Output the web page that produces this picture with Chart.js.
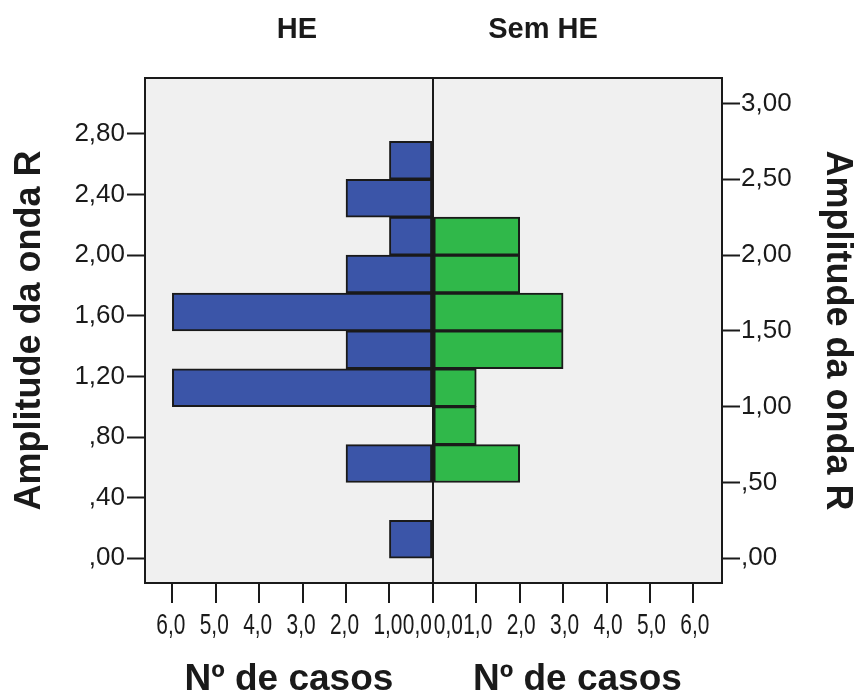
<!DOCTYPE html>
<html>
<head>
<meta charset="utf-8">
<script src="https://cdn.jsdelivr.net/npm/chart.js@4.4.1/dist/chart.umd.min.js"></script>
<style>
  html, body { margin: 0; padding: 0; background: #ffffff; }
  #wrap { width: 855px; height: 693px; }
</style>
</head>
<body>
<div id="wrap"><canvas id="pyramid"></canvas></div>
<script>
// Classes (centro de cada intervalo de 0,25) da amplitude da onda R
const binCenters = [0.125, 0.375, 0.625, 0.875, 1.125, 1.375, 1.625, 1.875, 2.125, 2.375, 2.625, 2.875];
// Nº de casos por classe
const casosHE    = [1, 0, 2, 0, 6, 2, 6, 2, 1, 2, 1, 0];
const casosSemHE = [0, 0, 2, 1, 1, 3, 3, 2, 2, 0, 0, 0];
const groupLabels = ['HE', 'Sem HE'];
const axisTitleY = 'Amplitude da onda R';
const axisTitleX = 'Nº de casos';

const FONT = "'Liberation Sans', Arial, sans-serif";
const INK = '#1a1a1a';

function toPoints(counts, sign) {
    return binCenters
        .map((c, i) => ({ y: c, x: sign * counts[i] }))
        .filter(p => p.x !== 0);
}

function fmtY(v) {
    const s = v.toFixed(2).replace('.', ',');
    return s.charAt(0) === '0' ? s.slice(1) : s;
}

function fmtX(v) {
    return Math.abs(v).toFixed(1).replace('.', ',');
}

// fundo cinzento, moldura, títulos e rótulos do eixo x (texto comprimido como no SPSS)
const framePlugin = {
    id: 'frame',
    beforeDraw(chart) {
        const { ctx, chartArea: a } = chart;
        ctx.save();
        ctx.fillStyle = '#f0f0f0';
        ctx.fillRect(a.left, a.top, a.right - a.left, a.bottom - a.top);
        ctx.restore();
    },
    afterDraw(chart) {
        const { ctx, chartArea: a } = chart;
        const xs = chart.scales.x;
        ctx.save();
        ctx.strokeStyle = INK;
        ctx.lineWidth = 2;
        ctx.strokeRect(a.left, a.top, a.right - a.left, a.bottom - a.top);

        // rótulos dos ticks x
        ctx.fillStyle = INK;
        ctx.font = '29px ' + FONT;
        ctx.textBaseline = 'middle';
        const squash = (txt, px, align) => {
            ctx.save();
            ctx.translate(px, 626);
            ctx.scale(0.72, 1);
            ctx.textAlign = align;
            ctx.fillText(txt, 0, 0);
            ctx.restore();
        };
        xs.ticks.forEach(t => {
            const px = xs.getPixelForValue(t.value);
            if (t.value === 0) {
                squash(fmtX(0), px - 1, 'right');
                squash(fmtX(0), px + 1, 'left');
            } else {
                squash(fmtX(t.value), px + Math.sign(t.value) * 1.5, 'center');
            }
        });

        // títulos dos grupos
        ctx.font = 'bold 29px ' + FONT;
        ctx.textAlign = 'center';
        ctx.textBaseline = 'middle';
        ctx.fillText(groupLabels[0], 297, 30);
        ctx.fillText(groupLabels[1], 543, 30);

        // títulos do eixo x, um por metade
        ctx.font = 'bold 37px ' + FONT;
        ctx.textBaseline = 'alphabetic';
        const x0 = xs.getPixelForValue(0);
        ctx.fillText(axisTitleX, (a.left + x0) / 2, 690);
        ctx.fillText(axisTitleX, (x0 + a.right) / 2, 690);
        ctx.restore();
    }
};

const yRange = { min: -0.163, max: 3.168 };

new Chart(document.getElementById('pyramid'), {
    type: 'bar',
    data: {
        datasets: [
            {
                label: groupLabels[0],
                data: toPoints(casosHE, -1),
                backgroundColor: '#3b55a8',
                borderColor: INK,
                borderWidth: 2,
                borderSkipped: false,
                yAxisID: 'y'
            },
            {
                label: groupLabels[1],
                data: toPoints(casosSemHE, 1),
                backgroundColor: '#30b84a',
                borderColor: INK,
                borderWidth: 2,
                borderSkipped: false,
                yAxisID: 'y'
            }
        ]
    },
    options: {
        indexAxis: 'y',
        responsive: true,
        maintainAspectRatio: false,
        animation: false,
        grouped: false,
        categoryPercentage: 1,
        barPercentage: 1,
        layout: { padding: { top: 78, left: 0, right: 0, bottom: 0 } },
        plugins: {
            legend: { display: false },
            tooltip: { enabled: false }
        },
        scales: {
            x: {
                type: 'linear',
                min: -6.63,
                max: 6.66,
                afterFit: s => { s.height = 110; },
                ticks: { display: false, stepSize: 1, includeBounds: false, maxTicksLimit: 20 },
                grid: {
                    drawOnChartArea: true,
                    color: c => (c.tick && c.tick.value === 0 ? INK : 'transparent'),
                    lineWidth: 2,
                    tickLength: 20,
                    tickColor: INK,
                    tickWidth: 2
                },
                border: { display: true, color: INK, width: 2 }
            },
            y: {
                type: 'linear',
                position: 'left',
                offset: false,
                min: yRange.min,
                max: yRange.max,
                afterFit: s => { s.width = 145; },
                ticks: {
                    stepSize: 0.4,
                    includeBounds: false,
                    padding: 2,
                    color: INK,
                    font: { family: FONT, size: 26 },
                    callback: v => fmtY(v)
                },
                grid: { offset: false, drawOnChartArea: false, tickLength: 18, tickColor: INK, tickWidth: 2 },
                border: { display: true, color: INK, width: 2 },
                title: {
                    display: true,
                    text: axisTitleY,
                    color: INK,
                    padding: { top: 12, bottom: 0 },
                    font: { family: FONT, size: 36, weight: 'bold', lineHeight: 1 }
                }
            },
            y2: {
                type: 'linear',
                position: 'right',
                offset: false,
                min: yRange.min,
                max: yRange.max,
                afterFit: s => { s.width = 133; },
                ticks: {
                    stepSize: 0.5,
                    includeBounds: false,
                    padding: 1,
                    color: INK,
                    font: { family: FONT, size: 26 },
                    callback: v => fmtY(v)
                },
                grid: { offset: false, drawOnChartArea: false, tickLength: 18, tickColor: INK, tickWidth: 2 },
                border: { display: true, color: INK, width: 2 },
                title: {
                    display: true,
                    text: axisTitleY,
                    color: INK,
                    padding: { top: 0, bottom: 0 },
                    font: { family: FONT, size: 36, weight: 'bold', lineHeight: 1 }
                }
            }
        }
    },
    plugins: [framePlugin]
});
</script>
</body>
</html>
